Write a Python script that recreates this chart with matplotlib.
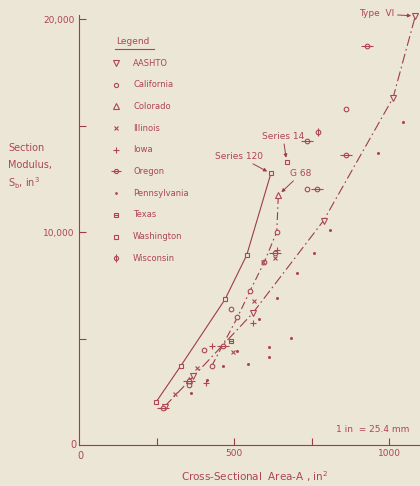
import numpy as np
import matplotlib.pyplot as plt

# section properties: area A (in^2), section modulus Sb (in^3)
aashto_A = [276, 369, 560, 789, 1013, 1085]
aashto_S = [1807, 3220, 6186, 10543, 16307, 20157]

wash_line_A = [248, 328, 471, 541, 619]
wash_line_S = [2005, 3709, 6841, 8921, 12756]
wash_A = [670]
wash_S = [13300]

calif_line_A = [428, 511, 552, 598, 638, 643]
calif_line_S = [3709, 5996, 7244, 8606, 10015, 11738]

calif_A = [356, 403, 428, 489, 511, 552, 598, 638, 736, 861]
calif_S = [2817, 4460, 3709, 6371, 5996, 7244, 8606, 10015, 12005, 15761]

colo_A = [643, 355]
colo_S = [11738, 3052]

ill_A = [310, 382, 496, 566, 595, 632]
ill_S = [2380, 3601, 4380, 6775, 8606, 8800]

iowa_A = [410, 429, 560, 640]
iowa_S = [2897, 4648, 5742, 9150]

oreg_A = [272, 356, 465, 632, 735, 767, 861, 928]
oreg_S = [1737, 3005, 4662, 9000, 14273, 12005, 13615, 18733]

penn_A = [360, 414, 465, 511, 546, 582, 612, 612, 638, 683, 703, 758, 810, 966, 1044]
penn_S = [2455, 3052, 3723, 4427, 3789, 5916, 4587, 4146, 6916, 5038, 8061, 9029, 10094, 13696, 15179]

texas_A = [489]
texas_S = [4897]

wisc_A = [772]
wisc_S = [14710]

legend_names = ['AASHTO', 'California', 'Colorado', 'Illinois', 'Iowa', 'Oregon',
                'Pennsylvania', 'Texas', 'Washington', 'Wisconsin']

bg = '#ece6d6'
ink = '#ad4555'
lc = '#9c3d48'

plt.rcParams['font.family'] = 'DejaVu Sans'
fig = plt.figure(figsize=(4.2, 4.86), dpi=100, facecolor=bg)
ax = fig.add_axes([79 / 420, 1 - 445 / 486, 341 / 420, 430 / 486])
ax.set_facecolor(bg)
ax.set_xlim(0, 1100)
ax.set_ylim(0, 20200)

for s in ['top', 'right']:
    ax.spines[s].set_visible(False)
for s in ['left', 'bottom']:
    ax.spines[s].set_color(lc)
    ax.spines[s].set_linewidth(0.8)

ax.set_xticks([250, 500, 750, 1000])
ax.set_xticklabels(['', '500', '', '1000'])
ax.set_yticks([5000, 10000, 15000, 20000])
ax.set_yticklabels(['', '10,000', '', '20,000'])
ax.tick_params(direction='in', length=5, width=0.8, color=lc, labelcolor=ink,
               labelsize=6.5, pad=3)
ax.text(-8, 0, '0', ha='right', va='center', color=ink, fontsize=7)
ax.text(5, -260, '0', ha='center', va='top', color=ink, fontsize=7)

# fitted lines
ax.plot(wash_line_A, wash_line_S, '-', color=lc, lw=0.8)
ax.plot(aashto_A, aashto_S, color=lc, lw=0.8, dashes=[9, 3, 1.5, 3])
ax.plot(calif_line_A, calif_line_S, color=lc, lw=0.8, dashes=[7, 3, 1.5, 3])

mk = dict(color=ink, linestyle='none', clip_on=False)
ax.plot(aashto_A, aashto_S, marker='v', ms=5, mfc=bg, mew=0.8, **mk)
ax.plot(calif_A, calif_S, marker='o', ms=3.3, mfc=bg, mew=0.8, **mk)
ax.plot(colo_A, colo_S, marker='^', ms=5, mfc=bg, mew=0.8, **mk)
ax.plot(ill_A, ill_S, marker='x', ms=3.5, mew=0.8, **mk)
ax.plot(iowa_A, iowa_S, marker='+', ms=4.5, mew=0.8, **mk)
ax.plot(oreg_A, oreg_S, marker='o', ms=3.3, mfc=bg, mew=0.8, **mk)
ax.plot(oreg_A, oreg_S, marker='_', ms=8, mew=0.8, **mk)
ax.plot(penn_A, penn_S, marker='o', ms=2.2, mew=0, **mk)
ax.plot(texas_A, texas_S, marker='s', ms=3.3, mfc=bg, mew=0.8, **mk)
ax.plot(texas_A, texas_S, marker='_', ms=3.3, mew=0.8, **mk)
ax.plot(wash_line_A + wash_A, wash_line_S + wash_S, marker='s', ms=3.3, mfc=bg, mew=0.8, **mk)
ax.plot(wisc_A, wisc_S, marker='o', ms=3.3, mfc=bg, mew=0.8, **mk)
ax.plot(wisc_A, wisc_S, marker='|', ms=6, mew=0.8, **mk)

# annotations
arr = dict(arrowstyle='-|>', color=lc, lw=0.7, mutation_scale=5, shrinkA=0, shrinkB=3)
ax.annotate('Type  VI', xy=(aashto_A[5], aashto_S[5]), xytext=(905, 20250),
            ha='left', va='center', color=ink, fontsize=6.5, arrowprops=arr,
            annotation_clip=False)
ax.annotate('Series 120', xy=(wash_line_A[4], wash_line_S[4]), xytext=(440, 13550),
            ha='left', va='center', color=ink, fontsize=6.5, arrowprops=arr)
ax.annotate('Series 14', xy=(wash_A[0], wash_S[0]), xytext=(590, 14480),
            ha='left', va='center', color=ink, fontsize=6.5, arrowprops=arr)
ax.annotate('G 68', xy=(colo_A[0], colo_S[0]), xytext=(682, 12750),
            ha='left', va='center', color=ink, fontsize=6.5, arrowprops=arr)
ax.text(830, 720, '1 in  = 25.4 mm', ha='left', va='center', color=ink, fontsize=6.5)

# axis titles
fig.text(8 / 420, 1 - 148 / 486, 'Section', ha='left', va='center', color=ink, fontsize=7)
fig.text(8 / 420, 1 - 165 / 486, 'Modulus,', ha='left', va='center', color=ink, fontsize=7)
fig.text(8 / 420, 1 - 183 / 486, r'S$_\mathregular{b}$, in$^\mathregular{3}$', ha='left',
         va='center', color=ink, fontsize=7)
fig.text(255 / 420, 1 - 477 / 486, r'Cross-Sectional  Area-A , in$^\mathregular{2}$',
         ha='center', va='center', color=ink, fontsize=7.5)

# legend drawn by hand
fig.text(116 / 420, 1 - 42 / 486, 'Legend', ha='left', va='center', color=ink, fontsize=6.5)
fig.add_artist(plt.Line2D([115 / 420, 154 / 420], [1 - 49 / 486, 1 - 49 / 486],
                          color=ink, lw=0.8))
styles = [dict(marker='v', ms=4.5, mfc=bg), dict(marker='o', ms=3, mfc=bg),
          dict(marker='^', ms=4.5, mfc=bg), dict(marker='x', ms=3),
          dict(marker='+', ms=4), dict(marker='o', ms=3, mfc=bg),
          dict(marker='o', ms=2, mew=0), dict(marker='s', ms=3, mfc=bg),
          dict(marker='s', ms=3, mfc=bg), dict(marker='o', ms=3, mfc=bg)]
extras = {5: dict(marker='_', ms=7), 7: dict(marker='_', ms=3), 9: dict(marker='|', ms=5.5)}
for i, name in enumerate(legend_names):
    py = 63 + 21.7 * i
    fx, fy = 116 / 420, 1 - py / 486
    st = dict(mew=0.8)
    st.update(styles[i])
    fig.add_artist(plt.Line2D([fx], [fy], color=ink, linestyle='none', **st))
    if i in extras:
        fig.add_artist(plt.Line2D([fx], [fy], color=ink, linestyle='none', mew=0.8,
                                  **extras[i]))
    fig.text(133 / 420, fy, name, ha='left', va='center', color=ink, fontsize=6)

fig.savefig('out.png', dpi=100, facecolor=bg)
